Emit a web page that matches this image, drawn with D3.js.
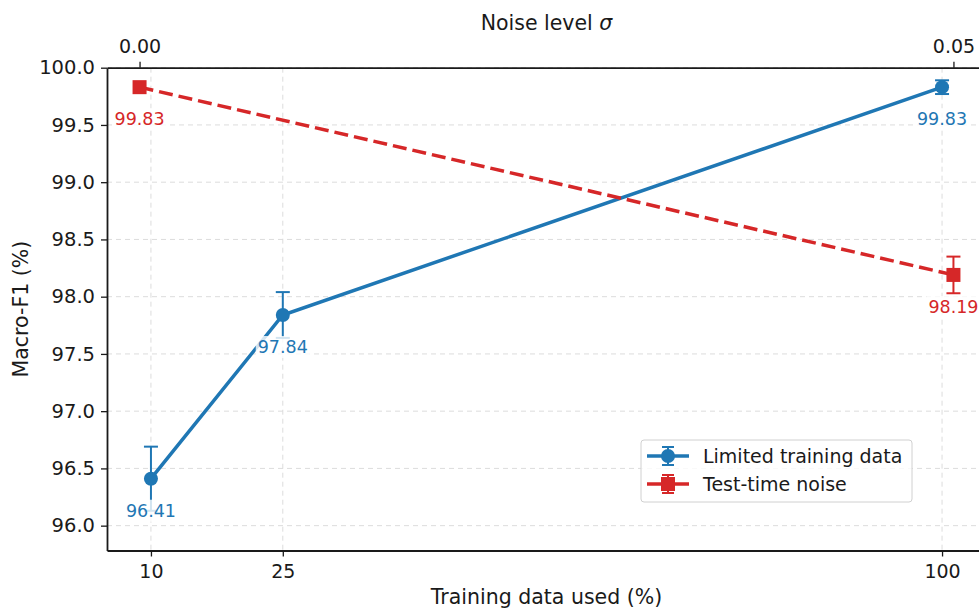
<!DOCTYPE html>
<html><head><meta charset="utf-8">
<script src="https://cdn.jsdelivr.net/npm/d3@7"></script>
<style>body{margin:0;background:#fff;} svg{display:block;font-family:"DejaVu Sans",sans-serif;}</style>
</head><body>
<svg id="chart" width="979" height="610"></svg>
<script>
// Data
const trainPct = [10, 25, 100];
const trainF1 = [96.41, 97.84, 99.83];
const trainErr = [0.28, 0.20, 0.06];
const noiseSigma = [0.00, 0.05];
const noiseF1 = [99.83, 98.19];
const noiseErr = [0.00, 0.16];
const xTicks = [10, 25, 100];
const topTicks = [0.00, 0.05];
const yTicks = [96.0, 96.5, 97.0, 97.5, 98.0, 98.5, 99.0, 99.5, 100.0];
const seriesNames = ["Limited training data", "Test-time noise"];
const blue = "#1f77b4", red = "#d62728";

const svg = d3.select("#chart");
const L = 107, R = 986, T = 67.7, B = 550.5;
const x = d3.scaleLinear().domain([5, 105]).range([L, R]);
const xTop = d3.scaleLinear().domain([-0.002, 0.052]).range([L, R]);
const y = d3.scaleLinear().domain([95.783, 100.0]).range([B, T]);

// grid
const grid = svg.append("g");
xTicks.forEach(v => grid.append("line").attr("x1", x(v)).attr("x2", x(v)).attr("y1", T).attr("y2", B)
  .attr("stroke", "#dcdcdc").attr("stroke-width", 1).attr("stroke-dasharray", "5,4"));
yTicks.forEach(v => grid.append("line").attr("x1", L).attr("x2", R).attr("y1", y(v)).attr("y2", y(v))
  .attr("stroke", "#dcdcdc").attr("stroke-width", 1).attr("stroke-dasharray", "5,4"));

// axes
const axB = svg.append("g").attr("transform", `translate(0,${B})`)
  .call(d3.axisBottom(x).tickValues(xTicks).tickSize(6).tickPadding(8).tickSizeOuter(0));
const axT = svg.append("g").attr("transform", `translate(0,${T})`)
  .call(d3.axisTop(xTop).tickValues(topTicks).tickFormat(d3.format(".2f")).tickSize(6).tickPadding(8.5).tickSizeOuter(0));
const axL = svg.append("g").attr("transform", `translate(${L},0)`)
  .call(d3.axisLeft(y).tickValues(yTicks).tickFormat(d3.format(".1f")).tickSize(6).tickPadding(6).tickSizeOuter(0));
[axB, axT, axL].forEach(a => {
  a.selectAll("text").attr("fill", "#1a1a1a").style("font-size", "19px").style("font-family", "DejaVu Sans");
  a.selectAll(".tick line").attr("stroke", "#1a1a1a").attr("stroke-width", 1.3);
  a.select(".domain").attr("stroke", "#1a1a1a").attr("stroke-width", 1.8);
});
axL.selectAll("text").style("font-size", "19.5px");
// right spine (off-screen mostly)
svg.append("line").attr("x1", R).attr("x2", R).attr("y1", T).attr("y2", B).attr("stroke", "#1a1a1a").attr("stroke-width", 1.8);

// axis titles
svg.append("text").attr("x", (L + R) / 2).attr("y", 603.5).attr("text-anchor", "middle")
  .style("font-size", "20.5px").attr("fill", "#1a1a1a").text("Training data used (%)");
const topT = svg.append("text").attr("x", (L + R) / 2).attr("y", 29.5).attr("text-anchor", "middle")
  .style("font-size", "20.5px").attr("fill", "#1a1a1a");
topT.append("tspan").text("Noise level ");
topT.append("tspan").style("font-style", "italic").text("σ");
svg.append("text").attr("transform", `translate(28,${(T + B) / 2}) rotate(-90)`).attr("text-anchor", "middle")
  .style("font-size", "20.5px").attr("fill", "#1a1a1a").text("Macro-F1 (%)");

const plot = svg.append("g");

const d1 = trainPct.map((v, i) => ({x: x(v), y: y(trainF1[i]), v: trainF1[i], e: trainErr[i]}));
const d2 = noiseSigma.map((v, i) => ({x: xTop(v), y: y(noiseF1[i]), v: noiseF1[i], e: noiseErr[i]}));
const line = d3.line().x(d => d.x).y(d => d.y);

function errbars(data, color) {
  data.forEach(d => {
    if (d.e <= 0) return;
    const y1 = y(d.v + d.e), y2 = y(d.v - d.e);
    plot.append("line").attr("x1", d.x).attr("x2", d.x).attr("y1", y1).attr("y2", y2).attr("stroke", color).attr("stroke-width", 2);
    [y1, y2].forEach(yy => plot.append("line").attr("x1", d.x - 7).attr("x2", d.x + 7).attr("y1", yy).attr("y2", yy).attr("stroke", color).attr("stroke-width", 2));
  });
}
errbars(d1, blue);
errbars(d2, red);
plot.append("path").datum(d1).attr("d", line).attr("fill", "none").attr("stroke", blue).attr("stroke-width", 3.5);
plot.append("path").datum(d2).attr("d", line).attr("fill", "none").attr("stroke", red).attr("stroke-width", 3.5).attr("stroke-dasharray", "14,6");
d1.forEach(d => plot.append("circle").attr("cx", d.x).attr("cy", d.y).attr("r", 7).attr("fill", blue));
d2.forEach(d => plot.append("rect").attr("x", d.x - 7).attr("y", d.y - 7).attr("width", 14).attr("height", 14).attr("fill", red));

// value labels
function labels(data, color) {
  data.forEach(d => {
    const g = plot.append("g");
    const t = g.append("text").attr("x", d.x).attr("y", d.y + 32).attr("text-anchor", "middle").attr("dominant-baseline", "central")
      .style("font-size", "17.5px").attr("fill", color).text(d.v.toFixed(2));
    const bb = t.node().getBBox();
    g.insert("rect", "text").attr("x", bb.x - 2).attr("y", bb.y - 1).attr("width", bb.width + 4).attr("height", bb.height + 2)
      .attr("fill", "#fff").attr("fill-opacity", 0.8);
  });
}
labels(d1, blue);
labels(d2, red);

// legend
const lg = svg.append("g").attr("transform", "translate(641,440)");
lg.append("rect").attr("x", 0).attr("y", 0).attr("width", 271).attr("height", 62).attr("rx", 3)
  .attr("fill", "#fff").attr("fill-opacity", 0.8).attr("stroke", "#d0d0d0").attr("stroke-width", 1);
const items = [{name: seriesNames[0], color: blue, shape: "circle", yy: 16},
               {name: seriesNames[1], color: red, shape: "square", yy: 44}];
items.forEach(it => {
  const cx = 27;
  lg.append("line").attr("x1", 6).attr("x2", 48).attr("y1", it.yy).attr("y2", it.yy).attr("stroke", it.color).attr("stroke-width", 3.5);
  lg.append("line").attr("x1", cx).attr("x2", cx).attr("y1", it.yy - 9).attr("y2", it.yy + 9).attr("stroke", it.color).attr("stroke-width", 2);
  [it.yy - 9, it.yy + 9].forEach(yy => lg.append("line").attr("x1", cx - 6).attr("x2", cx + 6).attr("y1", yy).attr("y2", yy).attr("stroke", it.color).attr("stroke-width", 2));
  if (it.shape === "circle") lg.append("circle").attr("cx", cx).attr("cy", it.yy).attr("r", 7).attr("fill", it.color);
  else lg.append("rect").attr("x", cx - 7).attr("y", it.yy - 7).attr("width", 14).attr("height", 14).attr("fill", it.color);
  lg.append("text").attr("x", 62).attr("y", it.yy).attr("dominant-baseline", "central").style("font-size", "19px")
    .attr("fill", "#1a1a1a").text(it.name);
});
</script>
</body></html>
